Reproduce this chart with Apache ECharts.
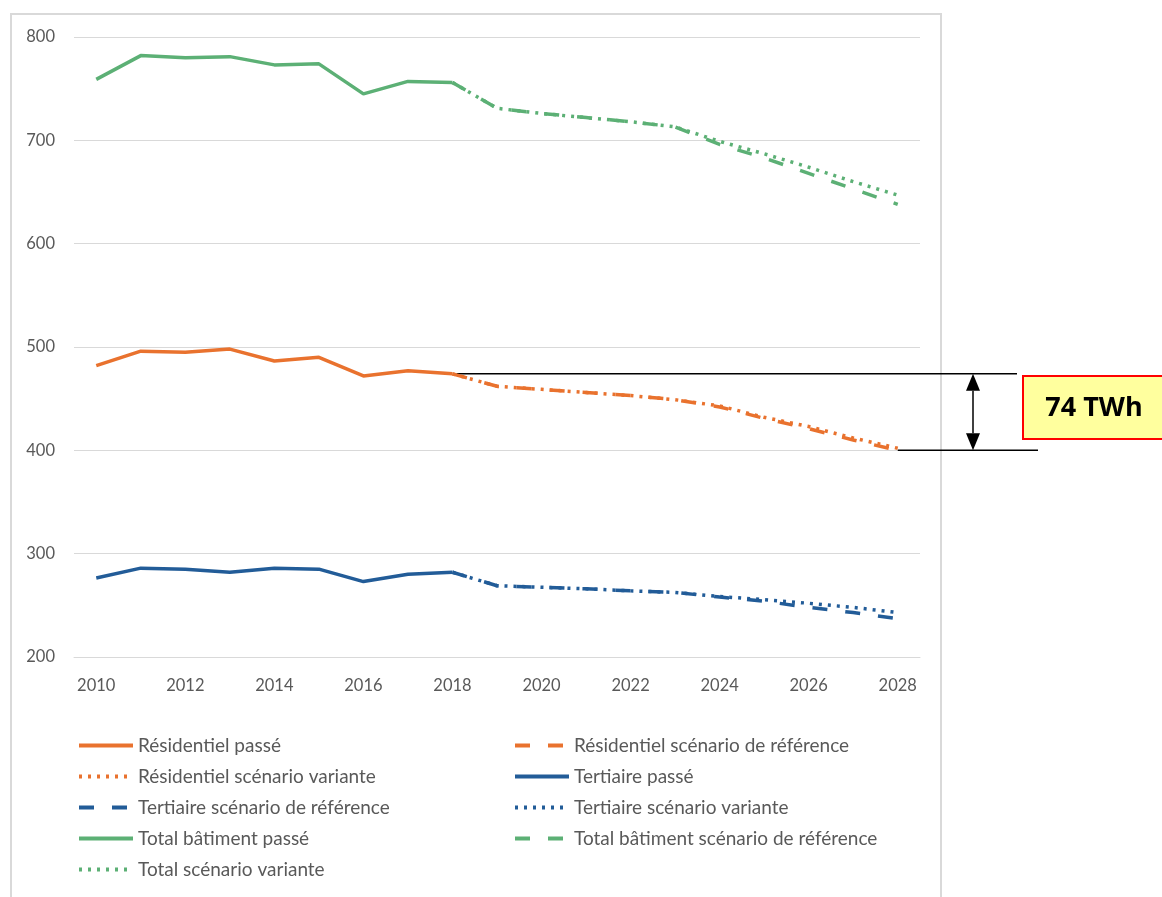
<!DOCTYPE html>
<html>
<head>
<meta charset="utf-8">
<script src="https://cdn.jsdelivr.net/npm/echarts@6/dist/echarts.min.js"></script>
<style>
  html, body { margin: 0; padding: 0; background: #ffffff; }
  #chart { width: 1162px; height: 897px; }
</style>
</head>
<body>
<div id="chart"></div>
<script>
// Years on the horizontal axis
const years = ['2010','2011','2012','2013','2014','2015','2016','2017','2018',
               '2019','2020','2021','2022','2023','2024','2025','2026','2027','2028'];

// Historical consumption, 2010–2018 (TWh)
const resPast = [482, 496, 495, 498, 486.5, 490, 472, 477, 474];
const terPast = [276.5, 286, 285, 282, 286, 285, 273, 280, 282];
const totPast = [759, 782, 780, 781, 773, 774, 745, 757, 756];

// Projections, 2018–2028 (TWh)
const resRef = [474, 462, 459, 456, 453, 449, 442, 431, 421, 410, 400];
const resVar = [474, 462, 459, 456, 453, 449, 443, 432, 423, 412, 402];
const terRef = [282, 269, 267.5, 266, 264, 262.5, 258, 254, 248, 243, 237];
const terVar = [282, 269, 267.5, 266, 264, 262.5, 258.5, 255.5, 252, 248, 243];
const totRef = [756, 731, 726, 722, 718, 713, 696, 683, 668, 653, 638];
const totVar = [756, 731, 726, 722, 718, 713, 699, 687, 674, 660, 647];

// Y axis ticks
const yMin = 200, yMax = 800, yStep = 100;

const ORANGE = '#E9722E';
const BLUE = '#225C98';
const GREEN = '#5CB075';
const TEXT = '#595959';
const FONT = 'Lato, "Open Sans", sans-serif';

const nulls = n => Array(n).fill(null);
const past = v => v.concat(nulls(years.length - v.length));
const proj = v => nulls(years.length - v.length).concat(v);

const DASH = [15, 18];
const DOT = [3, 6];

function line(name, data, color, type) {
  return {
    name, type: 'line', data,
    symbol: 'none', smooth: false, connectNulls: false,
    lineStyle: { color, width: 3.5, type, cap: 'butt' },
    itemStyle: { color },
    emphasis: { disabled: true }
  };
}

const series = [
  line('Résidentiel passé', past(resPast), ORANGE, 'solid'),
  line('Résidentiel scénario de référence', proj(resRef), ORANGE, DASH),
  line('Résidentiel scénario variante', proj(resVar), ORANGE, DOT),
  line('Tertiaire passé', past(terPast), BLUE, 'solid'),
  line('Tertiaire scénario de référence', proj(terRef), BLUE, DASH),
  line('Tertiaire scénario variante', proj(terVar), BLUE, DOT),
  line('Total bâtiment passé', past(totPast), GREEN, 'solid'),
  line('Total bâtiment scénario de référence', proj(totRef), GREEN, DASH),
  line('Total scénario variante', proj(totVar), GREEN, DOT)
];

const names = series.map(s => s.name);
const legendCommon = {
  orient: 'vertical',
  top: 731,
  height: 164,
  itemWidth: 54,
  itemHeight: 16,
  itemGap: 12,
  selectedMode: false,
  itemStyle: { opacity: 0 },
  lineStyle: { width: 4 },
  textStyle: { color: TEXT, fontSize: 19, fontFamily: FONT, lineHeight: 19 }
};

const chart = echarts.init(document.getElementById('chart'), null, { renderer: 'canvas' });

chart.setOption({
  animation: false,
  backgroundColor: '#ffffff',
  grid: { left: 74, right: 242, top: 37, bottom: 240, containLabel: false },
  xAxis: {
    type: 'category',
    data: years,
    boundaryGap: true,
    axisLine: { show: true, lineStyle: { color: '#d9d9d9', width: 1 } },
    axisTick: { show: false },
    axisLabel: { interval: 1, color: TEXT, fontSize: 16.5, fontFamily: FONT, margin: 20 },
    splitLine: { show: false }
  },
  yAxis: {
    type: 'value',
    min: yMin, max: yMax, interval: yStep,
    axisLine: { show: false },
    axisTick: { show: false },
    axisLabel: { color: TEXT, fontSize: 16.5, fontFamily: FONT, margin: 19 },
    splitLine: { lineStyle: { color: '#d9d9d9', width: 1 } }
  },
  legend: [
    Object.assign({}, legendCommon, { left: 72, data: names.filter((_, i) => i % 2 === 0) }),
    Object.assign({}, legendCommon, { left: 508, data: names.filter((_, i) => i % 2 === 1) })
  ],
  series
});

// Gap annotation between the last historical residential value and the 2028 reference value
const lastPastYear = years[resPast.length - 1];
const startVal = resPast[resPast.length - 1];
const endVal = resRef[resRef.length - 1];
const gap = Math.round(startVal - endVal);
const pTop = chart.convertToPixel({ gridIndex: 0 }, [lastPastYear, startVal]);
const pBot = chart.convertToPixel({ gridIndex: 0 }, [years[years.length - 1], endVal]);
const arrowX = 973;
const head = 17, half = 7;

chart.setOption({
  graphic: [
    {
      type: 'rect', silent: true, z: -1,
      shape: { x: 11, y: 14, width: 930, height: 900 },
      style: { fill: 'none', stroke: '#d9d9d9', lineWidth: 2 }
    },
    {
      type: 'line', silent: true,
      shape: { x1: pTop[0] + 4, y1: pTop[1], x2: 1017, y2: pTop[1] },
      style: { stroke: '#000000', lineWidth: 1.5 }
    },
    {
      type: 'line', silent: true,
      shape: { x1: pBot[0], y1: pBot[1], x2: 1038, y2: pBot[1] },
      style: { stroke: '#000000', lineWidth: 1.5 }
    },
    {
      type: 'line', silent: true,
      shape: { x1: arrowX, y1: pTop[1] + head, x2: arrowX, y2: pBot[1] - head },
      style: { stroke: '#000000', lineWidth: 1.5 }
    },
    {
      type: 'polygon', silent: true,
      shape: { points: [[arrowX, pTop[1]], [arrowX - half, pTop[1] + head], [arrowX + half, pTop[1] + head]] },
      style: { fill: '#000000' }
    },
    {
      type: 'polygon', silent: true,
      shape: { points: [[arrowX, pBot[1]], [arrowX - half, pBot[1] - head], [arrowX + half, pBot[1] - head]] },
      style: { fill: '#000000' }
    },
    {
      type: 'rect', silent: true,
      shape: { x: 1023, y: 376, width: 150, height: 63 },
      style: { fill: '#FFFF9E', stroke: '#FF0000', lineWidth: 2 }
    },
    {
      type: 'text', silent: true,
      x: 1094, y: 408,
      style: {
        text: gap + ' TWh',
        fill: '#000000',
        font: 'bold 27px "Open Sans", sans-serif',
        align: 'center', verticalAlign: 'middle'
      }
    }
  ]
});
</script>
</body>
</html>
